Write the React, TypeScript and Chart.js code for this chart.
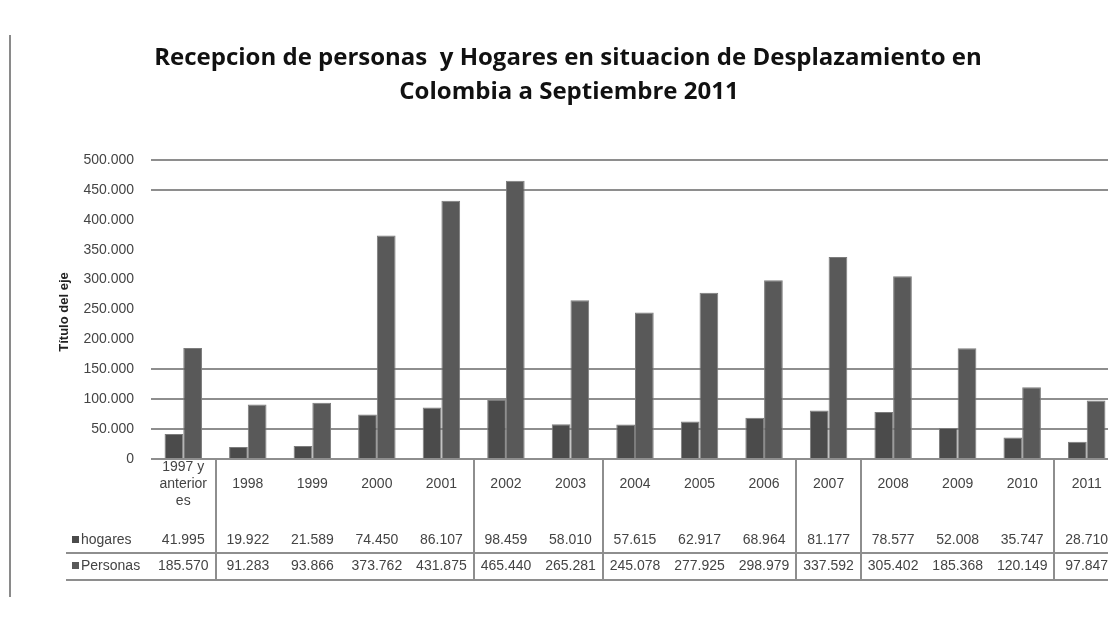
import React, { useEffect, useRef } from "react";
import { Chart, registerables } from "chart.js";

Chart.register(...registerables);

const titleLines = [
  "Recepcion de personas  y Hogares en situacion de Desplazamiento en",
  "Colombia a Septiembre 2011",
];
const axisTitle = "Título del eje";
const categories = [
  "1997 y anteriores", "1998", "1999", "2000", "2001", "2002", "2003", "2004",
  "2005", "2006", "2007", "2008", "2009", "2010", "2011",
];
const categoryLines = [
  ["1997 y", "anterior", "es"], ["1998"], ["1999"], ["2000"], ["2001"], ["2002"], ["2003"], ["2004"],
  ["2005"], ["2006"], ["2007"], ["2008"], ["2009"], ["2010"], ["2011"],
];
const seriesNames = ["hogares", "Personas"];
const hogares = [41995, 19922, 21589, 74450, 86107, 98459, 58010, 57615, 62917, 68964, 81177, 78577, 52008, 35747, 28710];
const personas = [185570, 91283, 93866, 373762, 431875, 465440, 265281, 245078, 277925, 298979, 337592, 305402, 185368, 120149, 97847];
const yTicks = [0, 50000, 100000, 150000, 200000, 250000, 300000, 350000, 400000, 450000, 500000];
const hiddenGridValues = [200000, 250000, 300000, 350000, 400000];
const tableDividerAfter = [0, 4, 6, 9, 10, 13];

const fmt = (n: number) => String(Math.round(n)).replace(/\B(?=(\d{3})+(?!\d))/g, ".");

const COLORS = { hog: "#4b4b4b", per: "#595959", grid: "#8e8e8e", text: "#444444" };
const FONT = "'Liberation Sans', Arial, sans-serif";

const decorPlugin = {
  id: "decor",
  afterDraw(chart: any) {
    const ctx = chart.ctx as CanvasRenderingContext2D;
    const area = chart.chartArea;
    const xs = chart.scales.x;
    const n = categories.length;
    const colW = (area.right - area.left) / n;
    ctx.save();
    // left frame line
    ctx.strokeStyle = "#8a8a8a";
    ctx.lineWidth = 2;
    ctx.beginPath();
    ctx.moveTo(10, 35);
    ctx.lineTo(10, 597);
    ctx.stroke();

    // title
    ctx.fillStyle = "#111";
    ctx.textAlign = "center";
    ctx.textBaseline = "middle";
    ctx.font = `bold 24px 'Open Sans', sans-serif`;
    ctx.fillText(titleLines[0], 568, 58);
    ctx.fillText(titleLines[1], 569, 92);

    // axis title
    ctx.save();
    ctx.translate(64, 312);
    ctx.rotate(-Math.PI / 2);
    ctx.font = `bold 13px ${FONT}`;
    ctx.fillStyle = "#222";
    ctx.fillText(axisTitle, 0, 0);
    ctx.restore();

    // table lines
    ctx.strokeStyle = COLORS.grid;
    ctx.lineWidth = 2;
    ctx.beginPath();
    ctx.moveTo(66, 553);
    ctx.lineTo(area.right + 20, 553);
    ctx.moveTo(66, 580);
    ctx.lineTo(area.right + 20, 580);
    tableDividerAfter.forEach((i) => {
      const x = Math.round(area.left + colW * (i + 1));
      ctx.moveTo(x, area.bottom + 1);
      ctx.lineTo(x, 580);
    });
    ctx.stroke();

    // category labels
    ctx.font = `14px ${FONT}`;
    ctx.fillStyle = COLORS.text;
    ctx.textAlign = "center";
    categoryLines.forEach((lines, i) => {
      const cx = xs.getPixelForValue(i);
      const lh = 17;
      const y0 = 484 - ((lines.length - 1) * lh) / 2;
      lines.forEach((l, j) => ctx.fillText(l, cx, y0 + j * lh));
    });

    // rows
    const rows = [
      { name: seriesNames[0], data: hogares, y: 540, color: COLORS.hog },
      { name: seriesNames[1], data: personas, y: 566, color: COLORS.per },
    ];
    rows.forEach((r) => {
      ctx.fillStyle = r.color;
      ctx.fillRect(72, r.y - 4, 7, 7);
      ctx.fillStyle = COLORS.text;
      ctx.textAlign = "left";
      ctx.fillText(r.name, 81, r.y);
      ctx.textAlign = "center";
      r.data.forEach((v, i) => ctx.fillText(fmt(v), xs.getPixelForValue(i), r.y));
    });
    ctx.restore();
  },
};

export default function App() {
  const ref = useRef<HTMLCanvasElement>(null);
  useEffect(() => {
    if (!ref.current) return;
    const chart = new Chart(ref.current, {
      type: "bar",
      data: {
        labels: categories,
        datasets: [
          { label: seriesNames[0], data: hogares, backgroundColor: COLORS.hog, borderColor: "#7c7c7c", borderWidth: 1 },
          { label: seriesNames[1], data: personas, backgroundColor: COLORS.per, borderColor: "#7c7c7c", borderWidth: 1 },
        ],
      },
      options: {
        responsive: false,
        animation: false,
        events: [],
        layout: { padding: { left: 0, right: 7, top: 160, bottom: 160 } },
        datasets: { bar: { categoryPercentage: 0.58, barPercentage: 1 } },
        plugins: { legend: { display: false }, tooltip: { enabled: false }, title: { display: false } },
        scales: {
          x: { display: false, offset: true },
          y: {
            min: 0,
            max: 500000,
            afterFit: (s: any) => { s.width = 151; },
            afterBuildTicks: (s: any) => { s.ticks = yTicks.map((v) => ({ value: v })); },
            border: { display: false },
            grid: {
              drawTicks: false,
              lineWidth: 2,
              color: (c: any) => (hiddenGridValues.includes(c.tick?.value) ? "rgba(0,0,0,0)" : COLORS.grid),
            },
            ticks: {
              padding: 17,
              color: COLORS.text,
              font: { family: FONT, size: 14 },
              callback: (v: any) => fmt(Number(v)),
            },
          },
        },
      },
      plugins: [decorPlugin],
    });
    return () => chart.destroy();
  }, []);
  return (
    <div style={{ position: "absolute", left: 0, top: 0, width: 1108, height: 619, overflow: "hidden", background: "#fff" }}>
      <canvas ref={ref} width={1126} height={619} style={{ display: "block" }} />
    </div>
  );
}
